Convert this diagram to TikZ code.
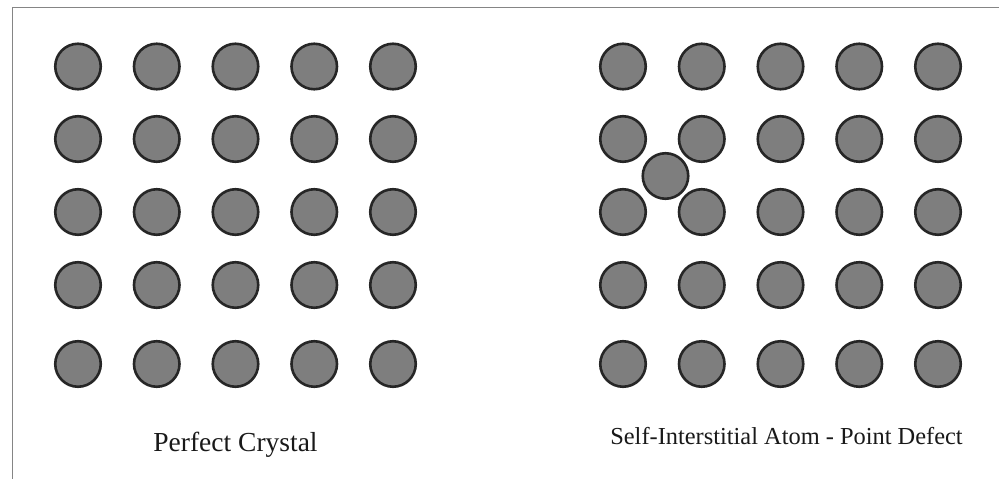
\documentclass[tikz,border=0pt]{standalone}
\usepackage{fontspec}
\setmainfont{Liberation Serif}
\definecolor{atomfill}{HTML}{7E7E7E}
\definecolor{atomline}{HTML}{262626}
\definecolor{framecol}{HTML}{858585}
\tikzset{
  atom/.style={circle, draw=atomline, fill=atomfill, line width=2.6pt, minimum size=45.5pt, inner sep=0pt},
  caption/.style={anchor=base, inner sep=0pt, text=black!90}
}
\begin{document}
\begin{tikzpicture}[x=1pt,y=-1pt]
\useasboundingbox[fill=white] (0,0) rectangle (999,479);
\coordinate (fb) at (12.5,479);
\coordinate (fc) at (12.5,7.5);
\coordinate (fr) at (999,7.5);
\draw[framecol, line width=1.8pt] (fb) -- (fc) -- (fr);
\foreach \r/\y in {1/66.5,2/139,3/212,4/285,5/364}{
  \foreach \c/\xl/\xr in {1/78/623,2/156.75/701.75,3/235.5/780.5,4/314.25/859.25,5/393/938}{
    \node[atom] (L\r\c) at (\xl,\y) {};
    \node[atom] (R\r\c) at (\xr,\y) {};
  }
}
\node[atom] (I) at (665.5,176) {};
\node[caption, font=\fontsize{27.5}{30}\selectfont] (capL) at (235.5,451) {Perfect Crystal};
\node[caption, font=\fontsize{24.4}{28}\selectfont] (capR) at (786.5,444) {Self-Interstitial Atom - Point Defect};
\end{tikzpicture}
\end{document}
